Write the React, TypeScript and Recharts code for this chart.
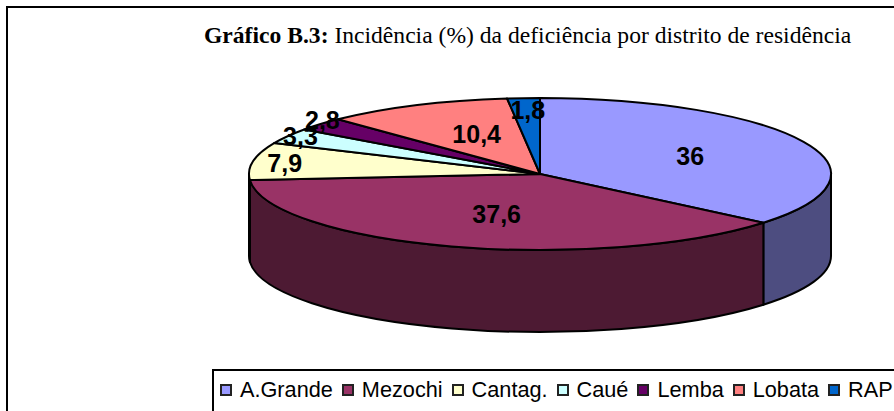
import React from "react";
import { PieChart, Pie, Legend } from "recharts";

const districts = ["A.Grande", "Mezochi", "Cantag.", "Caué", "Lemba", "Lobata", "RAP"];
const incidence = [36, 37.6, 7.9, 3.3, 2.8, 10.4, 1.8];
const topColors = ["#9999FF", "#993366", "#FFFFCC", "#CCFFFF", "#660066", "#FF8080", "#0066CC"];
const wallColors = ["#4D4D80", "#4D1A33", "#808066", "#668080", "#330033", "#804040", "#003366"];
const labelReachX = [0.57, 0.49, 0.89, 0.95, 0.99, 0.51, 0.74];
const labelReachY = [0.55, 0.55, 0.89, 1.0, 1.09, 0.58, 0.84];

const TILT = 76 / 291;
const DEPTH = 82;
const rad = (d: number) => (d * Math.PI) / 180;

const rows = districts.map((name, i) => ({
  name,
  value: incidence[i],
  fill: topColors[i],
  wall: wallColors[i],
  reachX: labelReachX[i],
  reachY: labelReachY[i],
}));

const pt = (cx: number, cy: number, rx: number, angle: number) => ({
  x: cx + rx * Math.cos(rad(angle)),
  y: cy - rx * TILT * Math.sin(rad(angle)),
});

function Slice3D(p: any) {
  const { cx, cy, outerRadius: rx, startAngle, endAngle, fill, index } = p;
  const ry = rx * TILT;
  const a = pt(cx, cy, rx, startAngle);
  const b = pt(cx, cy, rx, endAngle);
  const large = Math.abs(startAngle - endAngle) > 180 ? 1 : 0;
  // The front half of the ellipse runs from angle 0 to angle -180 (clockwise on screen).
  const s = Math.min(startAngle, 0);
  const e = Math.max(endAngle, -180);
  let wall = null;
  if (s > e) {
    const wa = pt(cx, cy, rx, s);
    const wb = pt(cx, cy, rx, e);
    wall = (
      <path
        d={
          `M${wa.x},${wa.y}A${rx},${ry} 0 0 1 ${wb.x},${wb.y}` +
          `L${wb.x},${wb.y + DEPTH}A${rx},${ry} 0 0 0 ${wa.x},${wa.y + DEPTH}Z`
        }
        fill={rows[index].wall}
        stroke="#000"
        strokeWidth={2}
        strokeLinejoin="round"
      />
    );
  }
  return (
    <g>
      {wall}
      <path
        d={`M${cx},${cy}L${a.x},${a.y}A${rx},${ry} 0 ${large} 1 ${b.x},${b.y}Z`}
        fill={fill}
        stroke="#000"
        strokeWidth={2}
        strokeLinejoin="round"
      />
    </g>
  );
}

function SliceLabel(p: any) {
  const { cx, cy, outerRadius: rx, midAngle, index } = p;
  const row = rows[index];
  const x = cx + rx * row.reachX * Math.cos(rad(midAngle));
  const y = cy - rx * TILT * row.reachY * Math.sin(rad(midAngle));
  return (
    <text
      x={x}
      y={y}
      textAnchor="middle"
      dominantBaseline="central"
      fontFamily="Liberation Sans"
      fontWeight="bold"
      fontSize={25}
      fill="#000"
    >
      {String(row.value).replace(".", ",")}
    </text>
  );
}

function LegendBox(p: any) {
  const items = p.payload ?? [];
  return (
    <div
      style={{
        position: "absolute",
        left: 212,
        top: 369,
        width: 690,
        height: 60,
        boxSizing: "border-box",
        border: "2px solid #000",
        background: "#fff",
        display: "flex",
        alignItems: "flex-start",
        paddingLeft: 6,
        paddingTop: 6,
        fontFamily: "Liberation Sans",
        fontSize: 21.7,
        lineHeight: "26px",
        color: "#000",
        whiteSpace: "nowrap",
      }}
    >
      {items.map((it: any) => (
        <span key={it.value} style={{ display: "flex", alignItems: "center", marginRight: 9 }}>
          <span
            style={{
              width: 12,
              height: 12,
              boxSizing: "border-box",
              border: "2px solid #222",
              background: it.color,
              marginRight: 8,
            }}
          />
          {it.value}
        </span>
      ))}
    </div>
  );
}

export default function App() {
  return (
    <div style={{ position: "absolute", left: 0, top: 0, width: 894, height: 411, overflow: "hidden", background: "#fff" }}>
      <PieChart width={894} height={411} margin={{ top: 0, right: 0, bottom: 0, left: 0 }}>
        <rect x={7} y={7} width={900} height={420} fill="#fff" stroke="#000" strokeWidth={2} />
        <text x={204} y={43} fontFamily="Liberation Serif" fontSize={23.6} fill="#000">
          <tspan fontWeight="bold">Gráfico B.3: </tspan>
          <tspan>Incidência (%) da deficiência por distrito de residência</tspan>
        </text>
        <Pie
          data={rows}
          dataKey="value"
          nameKey="name"
          cx={540}
          cy={174}
          outerRadius={291}
          startAngle={90}
          endAngle={-270}
          shape={Slice3D}
          label={SliceLabel}
          labelLine={false}
          isAnimationActive={false}
        />
        <Legend content={<LegendBox />} itemSorter={null} wrapperStyle={{ position: "static" }} />
      </PieChart>
    </div>
  );
}
